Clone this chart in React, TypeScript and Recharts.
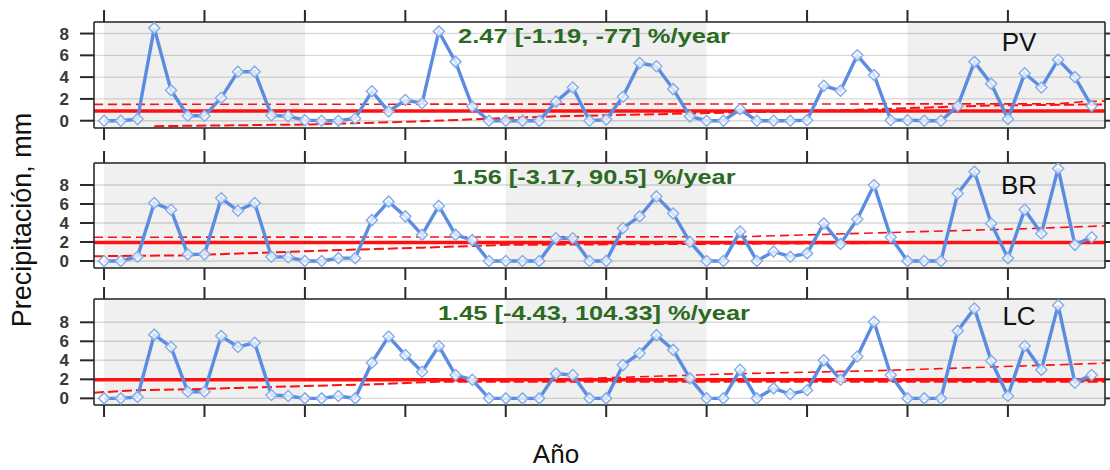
import { LineChart, Line, XAxis, YAxis, CartesianGrid, ReferenceArea } from 'recharts'

// bimonthly periods, six per year, ten years
const periods = Array.from({ length: 60 }, (_, i) => i)
const yearTicks = [0, 6, 12, 18, 24, 30, 36, 42, 48, 54]
const shadedSpans: [number, number][] = [[0, 12], [24, 36], [48, 59.8]]
const valueTicks = [0, 2, 4, 6, 8]
const xDomain: [number, number] = [-0.6, 59.8]

const pvValues = [
  0, 0, 0.15, 8.5, 2.8, 0.45, 0.45, 2.1, 4.5, 4.5,
  0.5, 0.4, 0.05, 0, 0, 0.2, 2.7, 0.85, 1.9, 1.6,
  8.2, 5.4, 1.3, 0, 0, 0, 0, 1.75, 3.05, 0,
  0.1, 2.2, 5.3, 5.0, 2.9, 0.4, 0, 0, 1.05, 0,
  0, 0, 0.05, 3.2, 2.75, 6.0, 4.2, 0.05, 0.05, 0,
  0, 1.35, 5.4, 3.4, 0.15, 4.35, 3.05, 5.6, 4.0, 1.35,
]
const brValues = [
  0, 0, 0.45, 6.1, 5.4, 0.7, 0.7, 6.6, 5.3, 6.1,
  0.45, 0.4, 0, 0, 0.3, 0.3, 4.3, 6.25, 4.7, 2.75,
  5.8, 2.75, 2.2, 0, 0, 0, 0, 2.4, 2.4, 0,
  0, 3.45, 4.7, 6.8, 5.0, 2.0, 0, 0, 3.1, 0,
  1.0, 0.45, 0.8, 3.95, 1.8, 4.4, 8.0, 2.5, 0, 0,
  0, 7.1, 9.4, 3.95, 0.3, 5.4, 2.9, 9.75, 1.7, 2.5,
]
const lcValues = [
  0, 0, 0.15, 6.7, 5.4, 0.7, 0.7, 6.55, 5.4, 5.85,
  0.35, 0.25, 0, 0, 0.25, 0, 3.75, 6.5, 4.55, 2.8,
  5.5, 2.45, 1.95, 0, 0, 0, 0, 2.6, 2.45, 0,
  0, 3.5, 4.75, 6.65, 5.1, 2.1, 0, 0, 3.0, 0,
  1.05, 0.45, 0.85, 4.0, 1.95, 4.4, 8.05, 2.45, 0, 0,
  0, 7.1, 9.45, 3.95, 0.25, 5.5, 3.0, 9.8, 1.65, 2.45,
]

// mean level and trend confidence bounds, as [period, value] knots
type Knots = [number, number][]
const pvMean: Knots = [[-0.6, 0.9], [59.8, 0.9]]
const pvUpper: Knots = [[-0.6, 1.5], [57, 1.55], [58.5, 1.75], [59.8, 1.8]]
const pvLower: Knots = [[3, -0.5], [12, -0.35], [18, -0.1], [27, 0.4], [36, 0.7], [45, 1.0], [53, 1.4], [59.8, 1.5]]
const brMean: Knots = [[-0.6, 1.95], [59.8, 1.95]]
const brUpper: Knots = [[-0.6, 2.5], [38, 2.55], [47, 3.0], [55, 3.4], [59.8, 3.7]]
const brLower: Knots = [[-0.6, 0.5], [5, 0.6], [10, 0.9], [15, 1.2], [19, 1.4], [24, 1.7], [59.8, 2.0]]
const lcMean: Knots = [[-0.6, 1.95], [59.8, 1.95]]
const lcUpper: Knots = [[-0.6, 1.95], [28, 2.05], [38, 2.6], [46, 2.9], [53, 3.3], [59.8, 3.7]]
const lcLower: Knots = [[-0.6, 0.6], [2, 0.85], [5, 0.95], [8, 1.1], [12, 1.3], [16, 1.47], [20, 1.75], [59.8, 1.75]]

const stations = ['PV', 'BR', 'LC']
const trendLabels = ['2.47 [-1.19, -77] %/year', '1.56 [-3.17, 90.5] %/year', '1.45 [-4.43, 104.33] %/year']

const FONT = '"Liberation Sans", Arial, sans-serif'
const RED = '#ff1010'
const BLUE = '#5a8de2'

function buildRows(values: number[], lines: Record<string, Knots>) {
  const byX = new Map<number, Record<string, number>>()
  const row = (x: number) => {
    if (!byX.has(x)) byX.set(x, { x })
    return byX.get(x)!
  }
  periods.forEach((p, i) => {
    row(p).precip = values[i]
  })
  Object.entries(lines).forEach(([key, knots]) => {
    knots.forEach(([x, v]) => {
      row(x)[key] = v
    })
  })
  return [...byX.values()].sort((a, b) => a.x - b.x)
}

const Diamond = (props: any) => {
  const { cx, cy, index } = props
  if (cx == null || cy == null || props.value == null) return <g key={`d${index}`} />
  const r = 5.5
  return (
    <path
      key={`d${index}`}
      d={`M${cx},${cy - r}L${cx + r},${cy}L${cx},${cy + r}L${cx - r},${cy}Z`}
      fill="#ffffff"
      fillOpacity={0.75}
      stroke="#86aeea"
      strokeWidth={1.5}
    />
  )
}

const frame = { stroke: '#2a2a2a', strokeWidth: 1.6 }
const tickMark = { stroke: '#2a2a2a', strokeWidth: 2 }

type PanelProps = {
  rows: Record<string, number>[]
  domain: [number, number]
  top: number
  height: number
  marginTop: number
}

function Panel({ rows, domain, top, height, marginTop }: PanelProps) {
  return (
    <div style={{ position: 'absolute', left: 0, top }}>
      <LineChart width={1110} height={height} data={rows} margin={{ top: marginTop, right: 0, bottom: 5, left: 0 }}>
        {shadedSpans.map(([a, b]) => (
          <ReferenceArea key={a} x1={a} x2={b} fill="#000" fillOpacity={0.06} stroke="none" />
        ))}
        <CartesianGrid vertical={false} stroke="#d9d9d9" strokeWidth={1.4} />
        <XAxis
          dataKey="x"
          type="number"
          domain={xDomain}
          allowDataOverflow
          ticks={yearTicks}
          interval={0}
          tickFormatter={() => ''}
          tickSize={12}
          height={12}
          axisLine={frame}
          tickLine={tickMark}
        />
        <XAxis
          xAxisId="t"
          orientation="top"
          dataKey="x"
          type="number"
          domain={xDomain}
          allowDataOverflow
          ticks={yearTicks}
          interval={0}
          tickFormatter={() => ''}
          tickSize={12}
          height={12}
          axisLine={frame}
          tickLine={tickMark}
        />
        <YAxis
          type="number"
          domain={domain}
          allowDataOverflow
          ticks={valueTicks}
          interval={0}
          width={94}
          tickSize={14}
          tickMargin={11}
          axisLine={frame}
          tickLine={tickMark}
          tick={{ fontSize: 17, fontWeight: 'bold', fill: '#383838', fontFamily: FONT }}
        />
        <YAxis
          yAxisId="r"
          orientation="right"
          type="number"
          domain={domain}
          allowDataOverflow
          ticks={valueTicks}
          interval={0}
          tickFormatter={() => ''}
          width={5}
          tickSize={5}
          axisLine={frame}
          tickLine={tickMark}
        />
        <Line dataKey="mean" stroke={RED} strokeWidth={3.5} dot={false} activeDot={false} connectNulls isAnimationActive={false} />
        <Line dataKey="upper" stroke={RED} strokeWidth={1.6} strokeDasharray="9 5" dot={false} activeDot={false} connectNulls isAnimationActive={false} />
        <Line dataKey="lower" stroke={RED} strokeWidth={2} strokeDasharray="10 4" dot={false} activeDot={false} connectNulls isAnimationActive={false} />
        <Line
          dataKey="precip"
          stroke={BLUE}
          strokeWidth={3.4}
          dot={Diamond}
          activeDot={false}
          connectNulls
          isAnimationActive={false}
        />
      </LineChart>
    </div>
  )
}

const panels = [
  { rows: buildRows(pvValues, { mean: pvMean, upper: pvUpper, lower: pvLower }), domain: [-0.67, 9.06] as [number, number], top: 0, height: 145, marginTop: 10 },
  { rows: buildRows(brValues, { mean: brMean, upper: brUpper, lower: brLower }), domain: [-0.74, 10.32] as [number, number], top: 150, height: 135, marginTop: 1 },
  { rows: buildRows(lcValues, { mean: lcMean, upper: lcUpper, lower: lcLower }), domain: [-0.7, 10.45] as [number, number], top: 287, height: 135, marginTop: 0 },
]

const titleBaselines = [43, 184, 320]
const titleWidths = [272, 283, 312]
const stationBaselines = [51, 194, 325]

export default function App() {
  return (
    <div style={{ position: 'fixed', left: 0, top: 0, width: 1110, height: 470, background: '#fff', overflow: 'hidden' }}>
      {panels.map((p, i) => (
        <Panel key={stations[i]} {...p} />
      ))}
      <svg width={1110} height={470} style={{ position: 'absolute', left: 0, top: 0, pointerEvents: 'none' }}>
        {trendLabels.map((t, i) => (
          <text
            key={t}
            x={594 - titleWidths[i] / 2}
            y={titleBaselines[i]}
            textLength={titleWidths[i]}
            lengthAdjust="spacingAndGlyphs"
            fontFamily={FONT}
            fontSize={20}
            fontWeight="bold"
            fill="#2b6a1f"
          >
            {t}
          </text>
        ))}
        {stations.map((s, i) => (
          <text key={s} x={1019} y={stationBaselines[i]} textAnchor="middle" fontFamily={FONT} fontSize={26} fill="#111">
            {s}
          </text>
        ))}
        <text x={31} y={220} transform="rotate(-90, 31, 220)" textAnchor="middle" fontFamily={FONT} fontSize={27} fill="#111">
          Precipitación, mm
        </text>
        <text x={556} y={463} textAnchor="middle" fontFamily={FONT} fontSize={26} fill="#111">
          Año
        </text>
      </svg>
    </div>
  )
}
